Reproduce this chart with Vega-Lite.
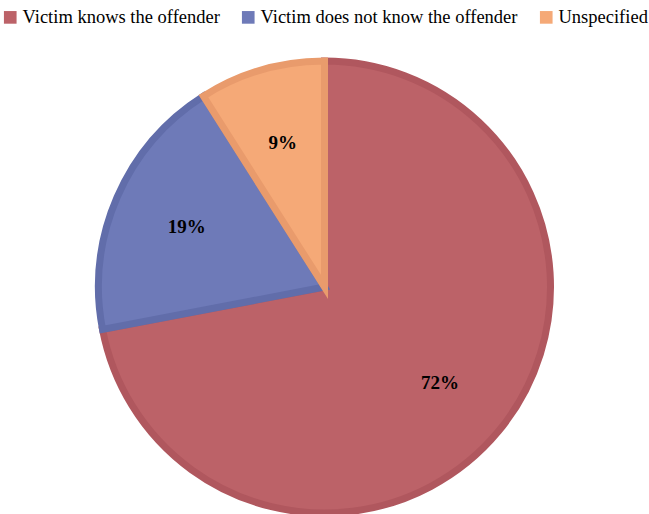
{
  "$schema": "https://vega.github.io/schema/vega-lite/v6.json",
  "width": 649,
  "height": 514,
  "autosize": {"type": "fit", "contains": "padding"},
  "padding": {"top": 60, "left": 0, "right": 0, "bottom": 0},
  "background": "white",
  "config": {"view": {"stroke": null}},
  "data": {
    "values": [
      {"category": "Victim knows the offender", "share": 72, "label": "72%", "rank": 1},
      {"category": "Victim does not know the offender", "share": 19, "label": "19%", "rank": 2},
      {"category": "Unspecified", "share": 9, "label": "9%", "rank": 3}
    ]
  },
  "encoding": {
    "theta": {"field": "share", "type": "quantitative", "stack": true},
    "order": {"field": "rank", "type": "quantitative"}
  },
  "layer": [
    {
      "mark": {"type": "arc", "radius": 226, "strokeWidth": 7, "strokeJoin": "miter"},
      "encoding": {
        "color": {
          "field": "category", "type": "nominal",
          "scale": {
            "domain": ["Victim knows the offender", "Victim does not know the offender", "Unspecified"],
            "range": ["#BC6268", "#6E7AB8", "#F5A977"]
          },
          "legend": {
            "orient": "none", "legendX": 1, "legendY": -52, "direction": "horizontal",
            "title": null, "symbolType": "square", "symbolSize": 160,
            "symbolStrokeWidth": 0, "symbolOpacity": 1, "padding": 0,
            "labelFont": "Liberation Serif", "labelFontSize": 18.5, "labelColor": "#000000",
            "labelLimit": 400, "columnPadding": 19, "symbolOffset": 0, "labelOffset": 3
          }
        },
        "stroke": {
          "field": "category", "type": "nominal",
          "scale": {
            "domain": ["Victim knows the offender", "Victim does not know the offender", "Unspecified"],
            "range": ["#B0575E", "#616DAA", "#E99B6C"]
          },
          "legend": null
        }
      }
    },
    {
      "mark": {"type": "text", "radius": 150, "font": "Liberation Serif", "fontWeight": "bold", "fontSize": 19, "color": "#000000"},
      "encoding": {
        "text": {"field": "label", "type": "nominal"}
      }
    }
  ]
}
